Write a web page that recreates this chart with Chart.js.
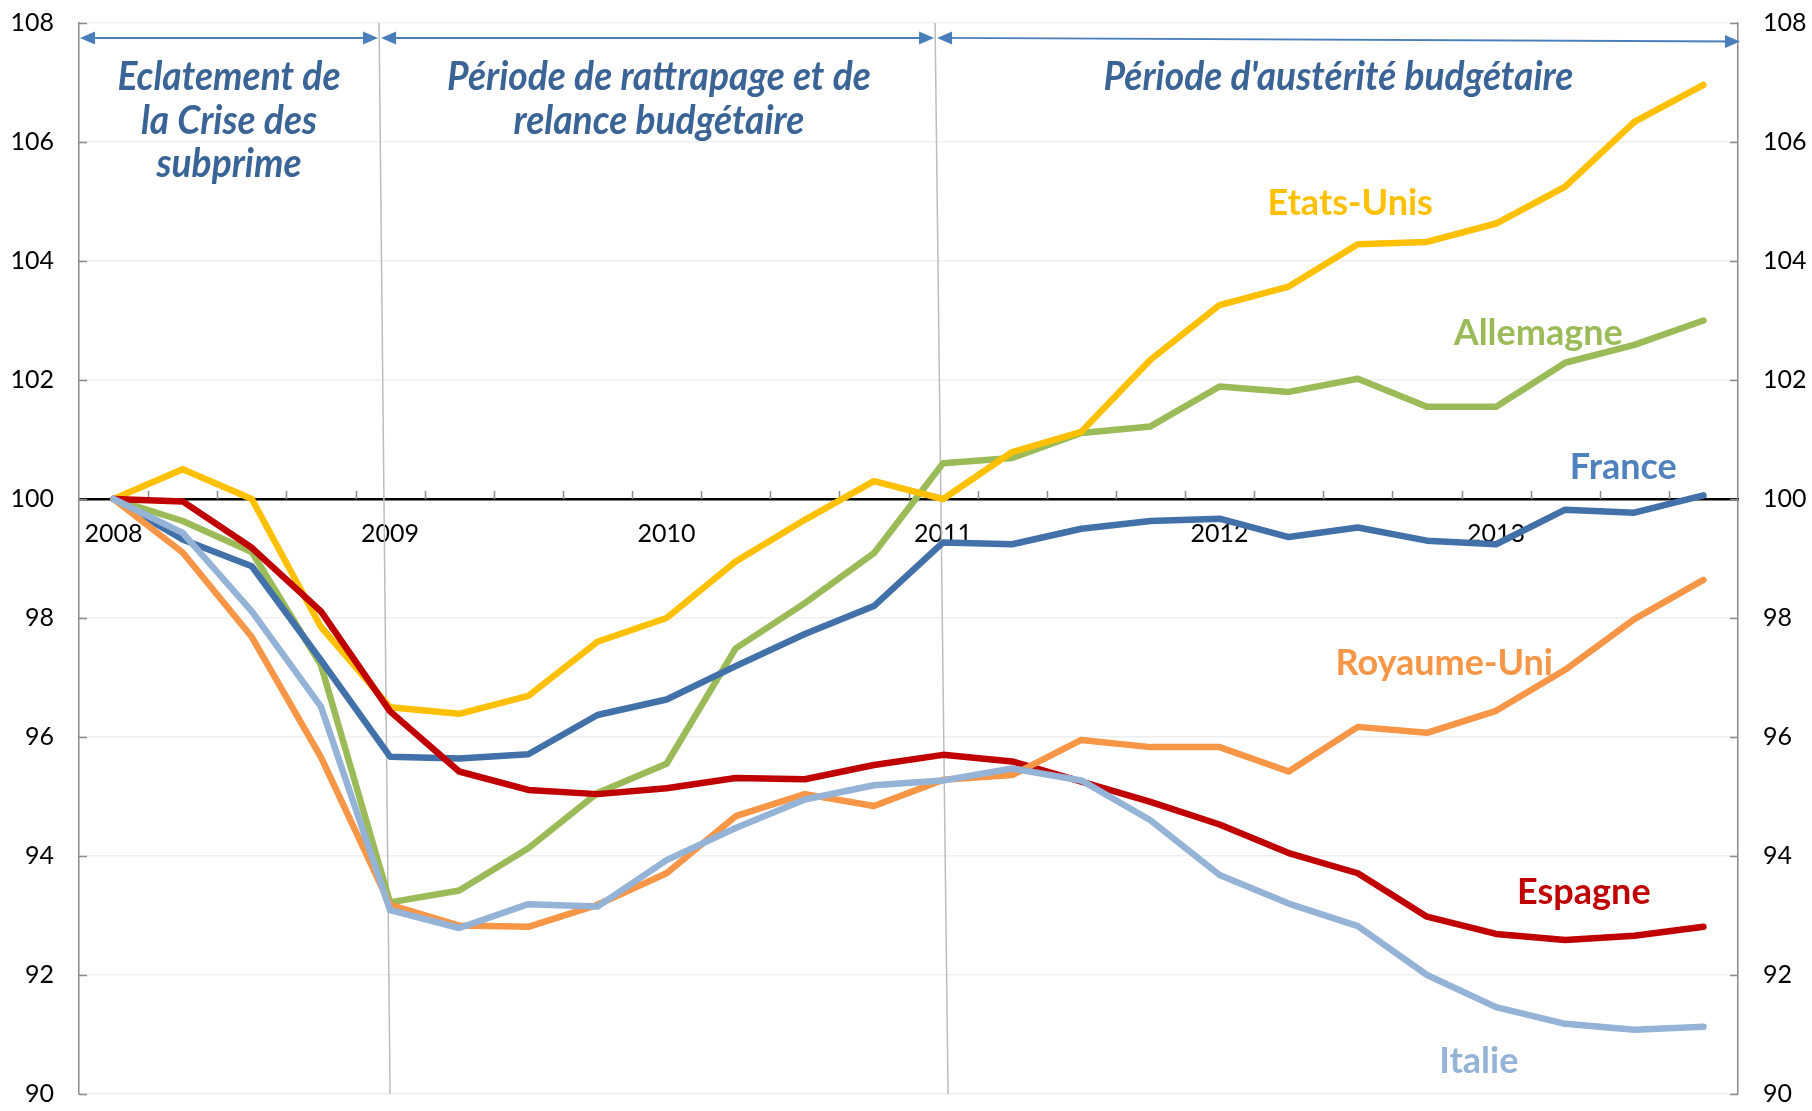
<!DOCTYPE html>
<html>
<head>
<meta charset="utf-8">
<script src="https://cdn.jsdelivr.net/npm/chart.js@4.4.1/dist/chart.umd.min.js"></script>
<style>
  html, body { margin: 0; padding: 0; background: #fff; }
  #wrap { width: 1812px; height: 1111px; position: relative; }
</style>
</head>
<body>
<div id="wrap"><canvas id="chart"></canvas></div>
<script>
// quarterly index, 2008 T1 = 100
const quarters = [
  '2008 T1','2008 T2','2008 T3','2008 T4','2009 T1','2009 T2','2009 T3','2009 T4',
  '2010 T1','2010 T2','2010 T3','2010 T4','2011 T1','2011 T2','2011 T3','2011 T4',
  '2012 T1','2012 T2','2012 T3','2012 T4','2013 T1','2013 T2','2013 T3','2013 T4'
];
const yearLabels = ['2008', '2009', '2010', '2011', '2012', '2013'];
const yTicks = [90, 92, 94, 96, 98, 100, 102, 104, 106, 108];

const etatsUnis   = [100, 100.5, 100.0, 97.85, 96.5, 96.39, 96.69, 97.6, 98.0, 98.95, 99.65, 100.3,
                     100.0, 100.79, 101.13, 102.34, 103.26, 103.57, 104.28, 104.32, 104.63, 105.25, 106.34, 106.96];
const allemagne   = [100, 99.63, 99.11, 97.21, 93.22, 93.42, 94.13, 95.06, 95.55, 97.49, 98.25, 99.09,
                     100.6, 100.69, 101.11, 101.22, 101.89, 101.8, 102.02, 101.55, 101.55, 102.29, 102.59, 103.0];
const france      = [100, 99.32, 98.87, 97.29, 95.67, 95.64, 95.71, 96.37, 96.63, 97.19, 97.73, 98.2,
                     99.27, 99.24, 99.5, 99.63, 99.67, 99.36, 99.52, 99.3, 99.24, 99.82, 99.77, 100.06];
const royaumeUni  = [100, 99.1, 97.68, 95.66, 93.18, 92.83, 92.81, 93.18, 93.71, 94.67, 95.04, 94.84,
                     95.28, 95.36, 95.95, 95.83, 95.83, 95.42, 96.17, 96.07, 96.44, 97.13, 97.98, 98.64];
const espagne     = [100, 99.96, 99.18, 98.11, 96.43, 95.42, 95.11, 95.04, 95.14, 95.31, 95.29, 95.53,
                     95.7, 95.59, 95.25, 94.91, 94.53, 94.05, 93.71, 92.98, 92.69, 92.59, 92.66, 92.81];
const italie      = [100, 99.43, 98.11, 96.51, 93.09, 92.79, 93.19, 93.15, 93.93, 94.47, 94.95, 95.19,
                     95.27, 95.47, 95.27, 94.6, 93.68, 93.2, 92.82, 92.0, 91.46, 91.18, 91.08, 91.13];

// lower order = drawn on top
const series = [
  { name: 'Etats-Unis',  data: etatsUnis,  color: '#ffc000', order: 4 },
  { name: 'Allemagne',   data: allemagne,  color: '#9bbb59', order: 5 },
  { name: 'France',      data: france,     color: '#4270a9', order: 3 },
  { name: 'Royaume-Uni', data: royaumeUni, color: '#f79646', order: 1 },
  { name: 'Espagne',     data: espagne,    color: '#c00000', order: 2 },
  { name: 'Italie',      data: italie,     color: '#95b3d7', order: 0 }
];

// series names written on the plot, anchored in data units (category index, value)
const seriesLabels = [
  { text: 'Etats-Unis',  at: [17.89, 104.77], color: '#ffc000' },
  { text: 'Allemagne',   at: [20.61, 102.59], color: '#9bbb59' },
  { text: 'France',      at: [21.84, 100.34], color: '#4f81bd' },
  { text: 'Royaume-Uni', at: [19.25, 97.05],  color: '#f79646' },
  { text: 'Espagne',     at: [21.27, 93.2],   color: '#c00000' },
  { text: 'Italie',      at: [19.75, 90.35],  color: '#95b3d7' }
];

// period titles
const periods = [
  { lines: ['Eclatement de', 'la Crise des', 'subprime'], x: 1.67 },
  { lines: ['Période de rattrapage et de', 'relance budgétaire'], x: 7.89 },
  { lines: ["Période d'austérité budgétaire"], x: 17.72 }
];
const periodBaselines = [106.88, 106.14, 105.41];

// grey dividers (slightly slanted) at 2009 T1 and 2011 T1
const dividers = [
  { at: 4,  top: -11, bottom: 0 },
  { at: 12, top: -8,  bottom: 5 }
];

const tickFont = { family: 'Lato, "Open Sans", sans-serif', size: 25 };

function text(ctx, str, x, y, font, color, sx) {
  ctx.save();
  ctx.font = font;
  ctx.fillStyle = color;
  ctx.textAlign = 'center';
  ctx.textBaseline = 'alphabetic';
  ctx.translate(x, y);
  ctx.scale(sx, 1);
  ctx.fillText(str, 0, 0);
  ctx.restore();
}

function arrowHead(ctx, x, y, dir) {
  ctx.beginPath();
  ctx.moveTo(x, y);
  ctx.lineTo(x - dir * 15, y - 6.5);
  ctx.lineTo(x - dir * 15, y + 6.5);
  ctx.closePath();
  ctx.fill();
}

// value axes: fixed width, no extra vertical padding from the tick labels
function fixAxis(width) {
  return s => { s.width = width; s.paddingTop = 0; s.paddingBottom = 0; };
}

const decor = {
  id: 'decor',
  beforeDatasetsDraw(chart) {
    const { ctx, chartArea: a, scales: { x, y } } = chart;
    const y100 = y.getPixelForValue(100);
    ctx.save();

    // inward ticks on both value axes
    ctx.strokeStyle = '#8a8a8a';
    ctx.lineWidth = 1.5;
    y.ticks.forEach(t => {
      const py = Math.round(y.getPixelForValue(t.value)) + 0.5;
      ctx.beginPath();
      ctx.moveTo(a.left, py); ctx.lineTo(a.left + 8, py);
      ctx.moveTo(a.right, py); ctx.lineTo(a.right - 8, py);
      ctx.stroke();
    });

    // small upward ticks on the 100 line, between quarters
    for (let i = 1; i < quarters.length; i++) {
      const px = Math.round((x.getPixelForValue(i - 1) + x.getPixelForValue(i)) / 2) + 0.5;
      ctx.beginPath();
      ctx.moveTo(px, y100); ctx.lineTo(px, y100 - 8);
      ctx.stroke();
    }

    // period dividers
    ctx.strokeStyle = '#bdbdbd';
    ctx.lineWidth = 1.5;
    const tops = [];
    dividers.forEach(d => {
      const px = x.getPixelForValue(d.at);
      tops.push(px + d.top);
      ctx.beginPath();
      ctx.moveTo(px + d.top, a.top);
      ctx.lineTo(px + d.bottom, a.bottom);
      ctx.stroke();
    });

    // arrows
    const ay = y.getPixelForValue(107.75);
    const ay2 = y.getPixelForValue(107.69);
    const spans = [
      [a.left + 1, tops[0] - 1, ay, ay],
      [tops[0] + 2, tops[1] - 1, ay, ay],
      [tops[1] + 2, a.right + 2, ay, ay2]
    ];
    ctx.strokeStyle = '#4a7ebb';
    ctx.fillStyle = '#4a7ebb';
    ctx.lineWidth = 2;
    spans.forEach(([x1, x2, y1, y2]) => {
      ctx.beginPath();
      ctx.moveTo(x1 + 4, y1); ctx.lineTo(x2 - 4, y2);
      ctx.stroke();
      arrowHead(ctx, x1, y1, -1);
      arrowHead(ctx, x2, y2, 1);
    });
    ctx.restore();
  },
  afterDatasetsDraw(chart) {
    const { ctx, scales: { x, y } } = chart;
    periods.forEach(p => {
      p.lines.forEach((ln, k) => {
        text(ctx, ln, x.getPixelForValue(p.x), y.getPixelForValue(periodBaselines[k]),
          'italic bold 40px Lato, "Open Sans", sans-serif', '#3b6496', 0.93);
      });
    });
    seriesLabels.forEach(l => {
      text(ctx, l.text, x.getPixelForValue(l.at[0]), y.getPixelForValue(l.at[1]),
        'bold 36px Lato, "Open Sans", sans-serif', l.color, 1);
    });
  }
};

new Chart(document.getElementById('chart'), {
  type: 'line',
  data: {
    labels: quarters,
    datasets: series.map(s => ({
      label: s.name,
      data: s.data,
      borderColor: s.color,
      backgroundColor: s.color,
      borderWidth: 6.5,
      borderJoinStyle: 'round',
      borderCapStyle: 'round',
      pointRadius: 0,
      tension: 0,
      order: s.order
    }))
  },
  options: {
    responsive: true,
    maintainAspectRatio: false,
    animation: false,
    layout: { padding: { top: 23, bottom: 17, left: 0, right: 0 } },
    plugins: { legend: { display: false }, tooltip: { enabled: false } },
    scales: {
      x: {
        type: 'category',
        offset: true,
        position: { y: 100 },
        border: { display: true, color: '#000', width: 2.5 },
        grid: { display: true, drawOnChartArea: false, drawTicks: false, color: 'rgba(0,0,0,0)' },
        ticks: {
          autoSkip: false, maxRotation: 0, minRotation: 0, padding: 20,
          font: tickFont, color: '#000',
          callback: (v, i) => (i % 4 === 0 ? yearLabels[i / 4] : '')
        },
        afterFit: s => { s.height = 0; }
      },
      y: {
        position: 'left',
        min: 90, max: 108,
        afterBuildTicks: s => { s.ticks = yTicks.map(v => ({ value: v })); },
        border: { color: '#8a8a8a', width: 1.5 },
        grid: {
          drawTicks: false,
          lineWidth: 1.5,
          color: c => (c.tick && c.tick.value === 100 ? 'rgba(0,0,0,0)' : '#efefef')
        },
        ticks: { padding: 25, font: tickFont, color: '#000' },
        afterFit: fixAxis(79)
      },
      y2: {
        position: 'right',
        min: 90, max: 108,
        afterBuildTicks: s => { s.ticks = yTicks.map(v => ({ value: v })); },
        border: { color: '#8a8a8a', width: 1.5 },
        grid: { drawOnChartArea: false, drawTicks: false },
        ticks: { padding: 25, font: tickFont, color: '#000' },
        afterFit: fixAxis(74)
      }
    }
  },
  plugins: [decor]
});
</script>
</body>
</html>
